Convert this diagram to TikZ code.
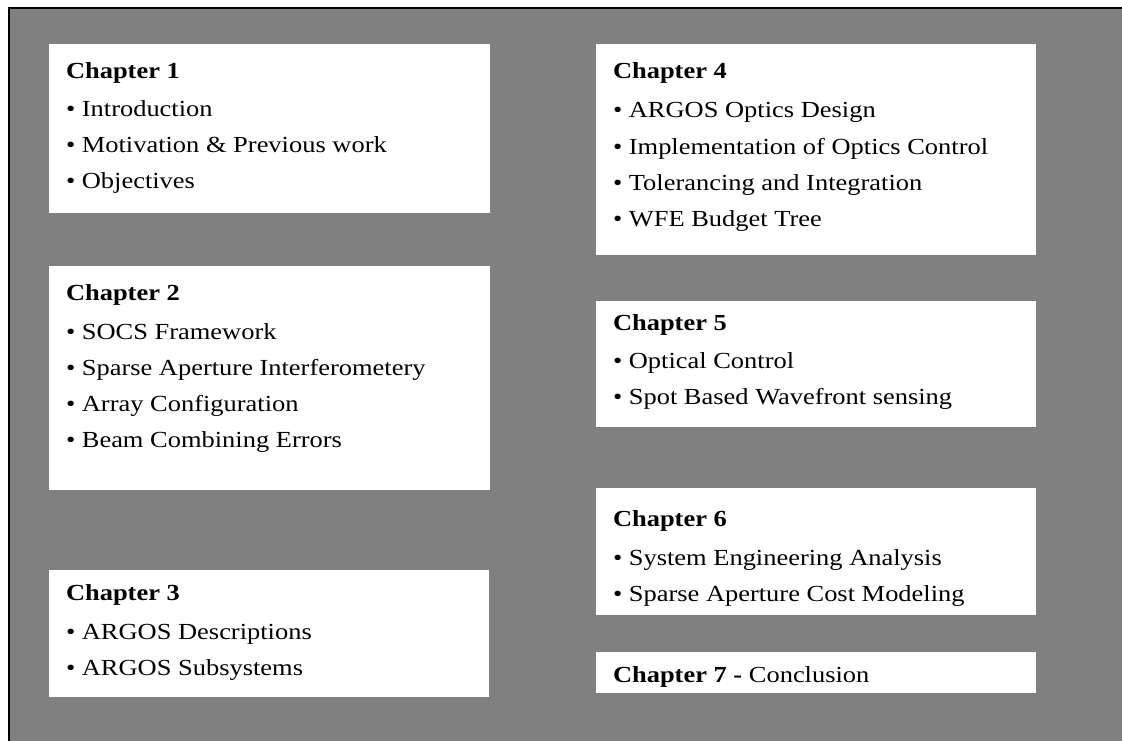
\documentclass[tikz,border=0pt]{standalone}
\usepackage{fontspec}
\setmainfont{Liberation Serif}[FakeStretch=1.15]
\definecolor{bggray}{HTML}{808080}
\tikzset{
  chapbox/.style={fill=white, draw=none, anchor=north west, inner sep=0pt, outer sep=0pt},
  itemtxt/.style={anchor=base west, inner sep=0pt, outer sep=0pt, font=\fontsize{23}{27}\selectfont},
  titletxt/.style={itemtxt, font=\fontsize{23}{27}\selectfont\bfseries}
}
\begin{document}
\begin{tikzpicture}[x=1pt, y=-1pt]
\useasboundingbox (0,0) rectangle (1122,741);
\fill[white] (0,0) rectangle (1122,741);
\fill[bggray] (8.5,8.5) rectangle (1130,750);
\draw[line width=2pt] (8.5,750) -- (8.5,8.5) -- (1130,8.5);

% boxes
\node[chapbox, minimum width=441pt, minimum height=169pt] (b1) at (49,44) {};
\node[chapbox, minimum width=441pt, minimum height=224pt] (b2) at (49,266) {};
\node[chapbox, minimum width=440pt, minimum height=127pt] (b3) at (49,570) {};
\node[chapbox, minimum width=440pt, minimum height=211pt] (b4) at (596,44) {};
\node[chapbox, minimum width=440pt, minimum height=126pt] (b5) at (596,301) {};
\node[chapbox, minimum width=440pt, minimum height=127pt] (b6) at (596,488) {};
\node[chapbox, minimum width=440pt, minimum height=41pt] (b7) at (596,652) {};

% chapter 1
\node[titletxt] (t1) at (66,79) {Chapter 1};
\node[itemtxt] (t1a) at (66,117) {• Introduction};
\node[itemtxt] (t1b) at (66,153) {• Motivation \& Previous work};
\node[itemtxt] (t1c) at (66,189) {• Objectives};

% chapter 2
\node[titletxt] (t2) at (66,300) {Chapter 2};
\node[itemtxt] (t2a) at (66,339) {• SOCS Framework};
\node[itemtxt] (t2b) at (66,375) {• Sparse Aperture Interferometery};
\node[itemtxt] (t2c) at (66,411) {• Array Configuration};
\node[itemtxt] (t2d) at (66,447) {• Beam Combining Errors};

% chapter 3
\node[titletxt] (t3) at (66,600) {Chapter 3};
\node[itemtxt] (t3a) at (66,639) {• ARGOS Descriptions};
\node[itemtxt] (t3b) at (66,675) {• ARGOS Subsystems};

% chapter 4
\node[titletxt] (t4) at (613,79) {Chapter 4};
\node[itemtxt] (t4a) at (613,118) {• ARGOS Optics Design};
\node[itemtxt] (t4b) at (613,154) {• Implementation of Optics Control};
\node[itemtxt] (t4c) at (613,190) {• Tolerancing and Integration};
\node[itemtxt] (t4d) at (613,226) {• WFE Budget Tree};

% chapter 5
\node[titletxt] (t5) at (613,330) {Chapter 5};
\node[itemtxt] (t5a) at (613,368) {• Optical Control};
\node[itemtxt] (t5b) at (613,404) {• Spot Based Wavefront sensing};

% chapter 6
\node[titletxt] (t6) at (613,526) {Chapter 6};
\node[itemtxt] (t6a) at (613,565) {• System Engineering Analysis};
\node[itemtxt] (t6b) at (613,601) {• Sparse Aperture Cost Modeling};

% chapter 7
\node[itemtxt] (t7) at (613,682) {\textbf{Chapter 7 -} Conclusion};
\end{tikzpicture}
\end{document}
